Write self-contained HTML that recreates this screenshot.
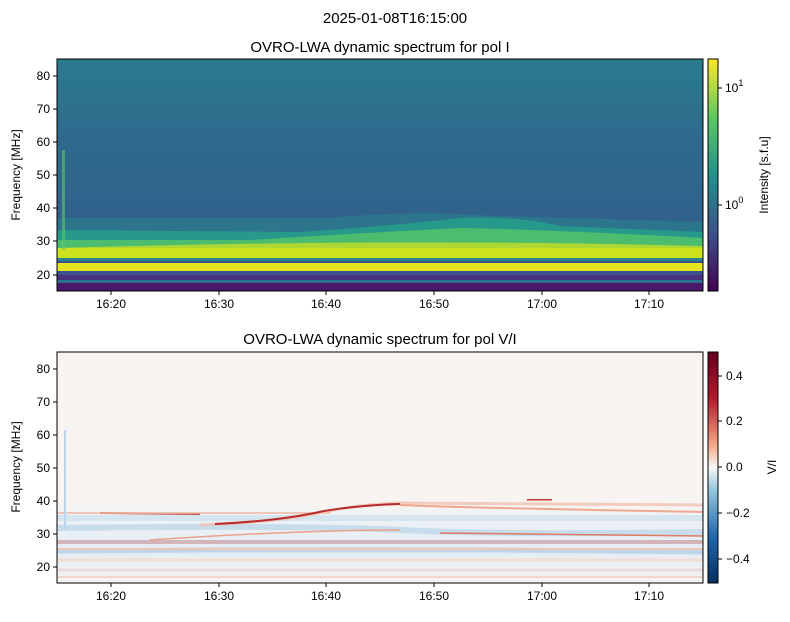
<!DOCTYPE html><html><head><style>body{margin:0;background:#fff}svg{font-family:"Liberation Sans",sans-serif}</style></head><body>
<svg width="790" height="617" viewBox="0 0 790 617" xmlns="http://www.w3.org/2000/svg">
<defs>
<linearGradient id="vir" x1="0" y1="1" x2="0" y2="0"><stop offset="0" stop-color="#440154"/><stop offset=".25" stop-color="#3b528b"/><stop offset=".5" stop-color="#21918c"/><stop offset=".75" stop-color="#5ec962"/><stop offset="1" stop-color="#fde725"/></linearGradient>
<linearGradient id="rdbu" x1="0" y1="1" x2="0" y2="0"><stop offset="0" stop-color="#053061"/><stop offset=".2" stop-color="#2166ac"/><stop offset=".4" stop-color="#92c5de"/><stop offset=".5" stop-color="#f7f7f7"/><stop offset=".6" stop-color="#f4a582"/><stop offset=".8" stop-color="#b2182b"/><stop offset="1" stop-color="#67001f"/></linearGradient>
<linearGradient id="top1" x1="0" y1="0" x2="0" y2="1"><stop offset="0" stop-color="#2a7a8e"/><stop offset=".35" stop-color="#2f6a8d"/><stop offset=".7" stop-color="#30618c"/><stop offset="1" stop-color="#305f8b"/></linearGradient>
<linearGradient id="vb" x1="0" y1="0" x2="0" y2="1"><stop offset="0" stop-color="#f8f4f2"/><stop offset=".15" stop-color="#eef2f6"/><stop offset=".6" stop-color="#e3ecf4"/><stop offset=".85" stop-color="#f1f1f3"/><stop offset="1" stop-color="#f6f2f2"/></linearGradient>
<clipPath id="c1"><rect x="57" y="59" width="646" height="232"/></clipPath>
<clipPath id="c2"><rect x="57" y="352" width="646" height="231"/></clipPath>
</defs>
<text x="395" y="23" font-size="15" text-anchor="middle">2025-01-08T16:15:00</text>
<text x="380" y="52" font-size="15" text-anchor="middle">OVRO-LWA dynamic spectrum for pol I</text>
<text x="380" y="344" font-size="15" text-anchor="middle">OVRO-LWA dynamic spectrum for pol V/I</text>
<g clip-path="url(#c1)">
<rect x="57" y="59" width="646" height="232" fill="url(#top1)"/>
<path d="M57 218 L330 218 Q420 210 470 215 L703 222 L703 232 L57 232Z" fill="#2c7b8c" opacity=".8"/>
<path d="M57 230 L300 232 Q400 225 460 218 Q520 216 560 226 L703 232 L703 250 L57 250Z" fill="#27998a"/>
<path d="M57 240 L250 240 Q380 232 460 228 Q560 230 703 238 L703 250 L57 250Z" fill="#56c566" opacity=".8"/>
<rect x="57" y="248" width="646" height="10" fill="#b5de2b"/>
<path d="M57 248 Q400 238 703 246 L703 258 L57 258Z" fill="#d8e219" opacity=".7"/>
<rect x="57" y="258" width="646" height="3" fill="#26828e"/>
<rect x="57" y="261" width="646" height="2" fill="#3b528b"/>
<rect x="57" y="263" width="646" height="8" fill="#e6e41c"/>
<rect x="57" y="271" width="646" height="4" fill="#3b528b"/>
<rect x="57" y="275" width="646" height="5" fill="#46327e"/>
<rect x="57" y="280" width="646" height="3" fill="#2c728e"/>
<rect x="57" y="283" width="646" height="8" fill="#48186a"/>
<rect x="62" y="150" width="3" height="100" fill="#5ec962" opacity=".6"/>
</g>
<rect x="57" y="59" width="646" height="232" fill="none" stroke="#000" stroke-width="1"/>
<g clip-path="url(#c2)">
<rect x="57" y="352" width="646" height="231" fill="#f8f4f2"/>
<rect x="57" y="505" width="646" height="78" fill="url(#vb)"/>
<path d="M57 518 L703 518" stroke="#d6e6f1" stroke-width="6"/>
<path d="M57 528 Q300 525 400 530 T703 532" stroke="#b9d4e7" stroke-width="6" fill="none" opacity=".7"/>
<path d="M57 542 L703 542" stroke="#c58f95" stroke-width="4" opacity=".6"/>
<path d="M57 551 Q400 548 703 552" stroke="#aecde3" stroke-width="5" fill="none" opacity=".7"/>
<path d="M57 549 L703 549" stroke="#f2c6b4" stroke-width="2"/>
<path d="M57 560 L703 560" stroke="#f3dcd4" stroke-width="3"/>
<path d="M57 570 L703 570" stroke="#eadde0" stroke-width="3"/>
<path d="M57 577 L703 577" stroke="#f1d6cc" stroke-width="2"/>
<path d="M100 513 L200 514" stroke="#c2534a" stroke-width="2" fill="none"/>
<path d="M57 513 L330 513" stroke="#eeb8a3" stroke-width="1.5" fill="none"/>
<path d="M200 525 Q280 522 324 512 Q360 504 400 503 L703 505" stroke="#f0c2b0" stroke-width="3" fill="none" opacity=".8"/>
<path d="M215 524 Q280 521 324 511 Q360 505 400 504" stroke="#b82d2b" stroke-width="2" fill="none"/>
<path d="M400 505 Q470 508 703 512" stroke="#eea890" stroke-width="2" fill="none"/>
<path d="M440 533 L703 536" stroke="#e07c62" stroke-width="1.5" fill="none"/>
<path d="M150 540 Q300 530 400 530" stroke="#eaa08a" stroke-width="1.5" fill="none"/>
<rect x="527" y="499" width="25" height="1.5" fill="#c0392b"/>
<rect x="64" y="430" width="2" height="100" fill="#bcd5ea"/>
</g>
<rect x="57" y="352" width="646" height="231" fill="none" stroke="#000"/>
<rect x="708" y="59" width="10" height="232" fill="url(#vir)" stroke="#000"/>
<rect x="708" y="352" width="10" height="231" fill="url(#rdbu)" stroke="#000"/>
<g font-size="12" fill="#000" stroke="#000">
<line x1="718" y1="88" x2="722" y2="88"/><line x1="718" y1="205" x2="722" y2="205"/>
<line x1="718" y1="376" x2="722" y2="376"/><line x1="718" y1="421" x2="722" y2="421"/><line x1="718" y1="467" x2="722" y2="467"/><line x1="718" y1="513" x2="722" y2="513"/><line x1="718" y1="559" x2="722" y2="559"/>
</g>
<g font-size="12">
<text x="725" y="92">10<tspan dy="-6" font-size="9">1</tspan></text>
<text x="725" y="209">10<tspan dy="-6" font-size="9">0</tspan></text>
<text x="726" y="380">0.4</text><text x="726" y="425">0.2</text><text x="726" y="471">0.0</text><text x="726" y="517">−0.2</text><text x="726" y="563">−0.4</text>
<text transform="translate(768,175) rotate(-90)" text-anchor="middle">Intensity [s.f.u]</text>
<text transform="translate(776,467) rotate(-90)" text-anchor="middle">V/I</text>
<text transform="translate(20,175) rotate(-90)" text-anchor="middle">Frequency [MHz]</text>
<text transform="translate(20,467) rotate(-90)" text-anchor="middle">Frequency [MHz]</text>
</g>
<g font-size="12" text-anchor="end">
<text x="50" y="80">80</text><text x="50" y="113">70</text><text x="50" y="146">60</text><text x="50" y="179">50</text><text x="50" y="212">40</text><text x="50" y="245">30</text><text x="50" y="279">20</text>
<text x="50" y="373">80</text><text x="50" y="406">70</text><text x="50" y="439">60</text><text x="50" y="472">50</text><text x="50" y="505">40</text><text x="50" y="538">30</text><text x="50" y="571">20</text>
</g>
<g stroke="#000">
<path d="M53 76h4M53 109h4M53 142h4M53 175h4M53 208h4M53 241h4M53 275h4M53 369h4M53 402h4M53 435h4M53 468h4M53 501h4M53 534h4M53 567h4"/>
<path d="M111 291v4M219 291v4M326 291v4M434 291v4M542 291v4M649 291v4M111 583v4M219 583v4M326 583v4M434 583v4M542 583v4M649 583v4"/>
</g>
<g font-size="12" text-anchor="middle">
<text x="111" y="308">16:20</text><text x="219" y="308">16:30</text><text x="326" y="308">16:40</text><text x="434" y="308">16:50</text><text x="542" y="308">17:00</text><text x="649" y="308">17:10</text>
<text x="111" y="600">16:20</text><text x="219" y="600">16:30</text><text x="326" y="600">16:40</text><text x="434" y="600">16:50</text><text x="542" y="600">17:00</text><text x="649" y="600">17:10</text>
</g>
</svg></body></html>
